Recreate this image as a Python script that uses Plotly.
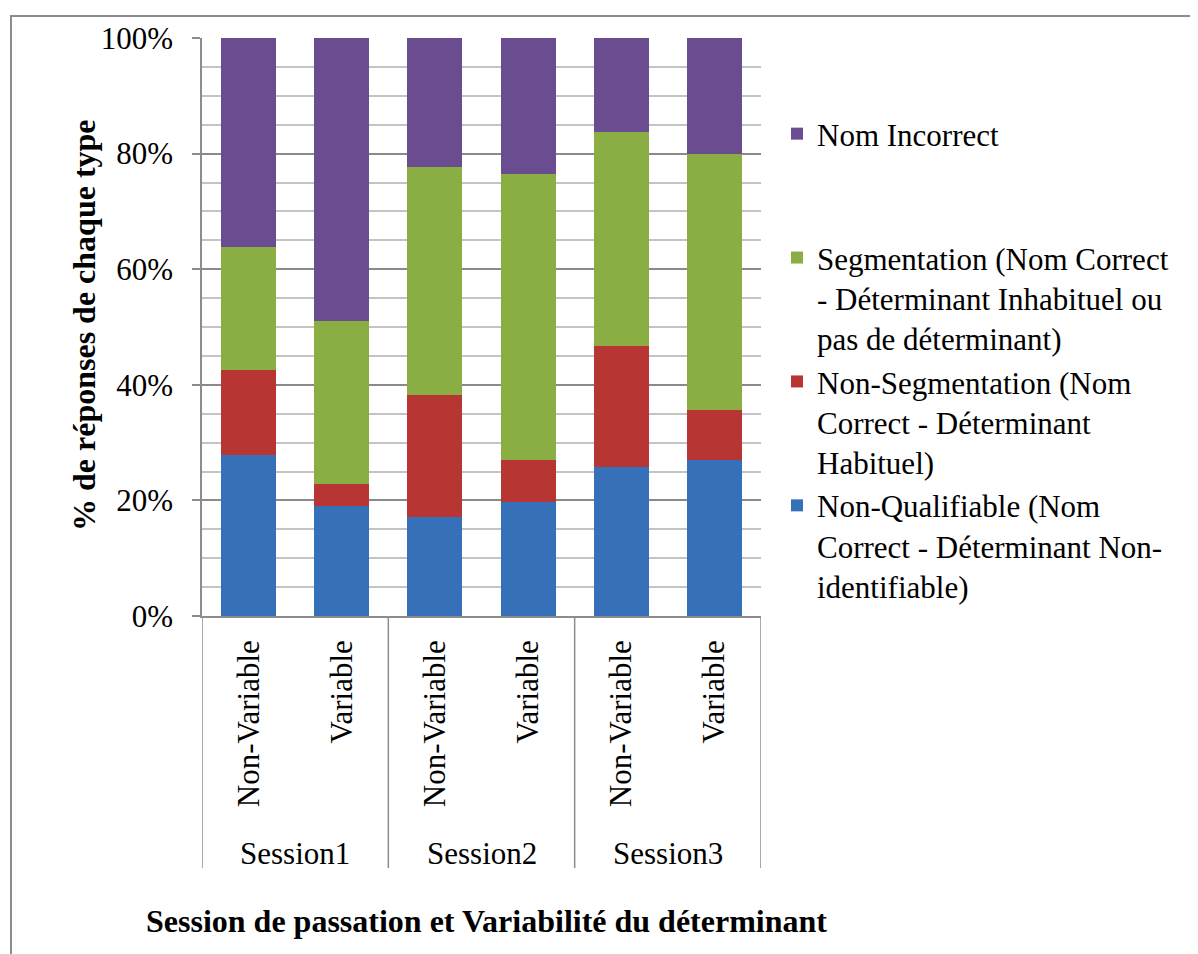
import plotly.graph_objects as go

categories = ["Non-Variable", "Variable", "Non-Variable", "Variable", "Non-Variable", "Variable"]
sessions = ["Session1", "Session2", "Session3"]

non_qualifiable = [27.8, 19.1, 17.1, 19.7, 25.7, 27.0]
non_segmentation = [14.7, 3.8, 21.1, 7.3, 21.1, 8.6]
segmentation = [21.3, 28.2, 39.4, 49.4, 37.0, 44.4]
nom_incorrect = [36.2, 48.9, 22.4, 23.6, 16.2, 20.0]

series_names = [
    "Non-Qualifiable (Nom<br>Correct - Déterminant Non-<br>identifiable)",
    "Non-Segmentation (Nom<br>Correct - Déterminant<br>Habituel)",
    "Segmentation (Nom Correct<br>- Déterminant Inhabituel ou<br>pas de déterminant)",
    "Nom Incorrect<br> <br> ",
]
series_values = [non_qualifiable, non_segmentation, segmentation, nom_incorrect]
series_colors = ["#3670B8", "#B73533", "#8AAE43", "#6A4C90"]

y_ticks = [0, 20, 40, 60, 80, 100]
y_ticktext = ["0%", "20%", "40%", "60%", "80%", "100%"]

FONT = "Liberation Serif"
FS = 31

x_idx = list(range(len(categories)))

fig = go.Figure()
for name, vals, col in zip(series_names, series_values, series_colors):
    fig.add_trace(go.Bar(
        x=x_idx, y=vals, name=name,
        marker=dict(color=col, line=dict(width=0)),
        width=0.59,
    ))

OFF = 8  # page body margin
W, H = 1198 - OFF, 954 - OFF
ml, mt = 202 - OFF, 38 - OFF
mr = W - (761 - OFF)
mb = H - (616 - OFF)
pw = W - ml - mr
ph = H - mt - mb

def py(px):
    return (H - mb - (px - OFF)) / ph

def pxx(px):
    return ((px - OFF) - ml) / pw

shapes = []
n_per = len(categories) // len(sessions)
for k in range(len(sessions) + 1):
    xs = k * n_per - 0.5
    shapes.append(dict(type="line", xref="x", yref="paper", x0=xs, x1=xs,
                       y0=0, y1=py(868), line=dict(color="#8C8C8C", width=1.5)))
shapes.append(dict(type="rect", xref="paper", yref="paper",
                   x0=pxx(11), x1=pxx(1220), y0=py(980), y1=py(16),
                   line=dict(color="#8C8C8C", width=2), fillcolor="rgba(0,0,0,0)", layer="below"))

annotations = []
for k, s in enumerate(sessions):
    annotations.append(dict(text=s, x=k * n_per + (n_per - 1) / 2, xref="x",
                            y=py(853), yref="paper", showarrow=False,
                            font=dict(family=FONT, size=FS, color="black"),
                            xanchor="center", yanchor="middle"))
annotations.append(dict(text="<b>Session de passation et Variabilité du déterminant</b>",
                        x=pxx(486), xref="paper", y=py(921), yref="paper",
                        showarrow=False, xanchor="center", yanchor="middle",
                        font=dict(family=FONT, size=32, color="black")))
annotations.append(dict(text="<b>% de réponses de chaque type</b>",
                        x=pxx(84), xref="paper", y=py(325), yref="paper",
                        showarrow=False, textangle=-90, xanchor="center", yanchor="middle",
                        font=dict(family=FONT, size=32, color="black")))

fig.update_layout(
    barmode="stack",
    width=W, height=H,
    margin=dict(l=ml, r=mr, t=mt, b=mb, autoexpand=False),
    paper_bgcolor="white", plot_bgcolor="white",
    font=dict(family=FONT, size=FS, color="black"),
    showlegend=True,
    legend=dict(traceorder="reversed", x=pxx(777), xanchor="left", y=py(107), yanchor="top",
                font=dict(family=FONT, size=FS, color="black"), valign="top",
                bgcolor="rgba(0,0,0,0)", itemclick=False, tracegroupgap=0),
    shapes=shapes,
    annotations=annotations,
    xaxis=dict(
        tickmode="array", tickvals=x_idx, ticktext=categories, tickangle=-90,
        range=[-0.5, len(categories) - 0.5],
        showgrid=False, showline=True, linecolor="#8C8C8C", linewidth=1.5,
        ticks="", tickfont=dict(family=FONT, size=FS, color="black"),
        ticklabelstandoff=10,
        zeroline=False,
    ),
    yaxis=dict(
        range=[0, 100], tickmode="array", tickvals=y_ticks, ticktext=y_ticktext,
        showgrid=True, gridcolor="#8A8A8A", gridwidth=1.5,
        minor=dict(dtick=5, showgrid=True, gridcolor="#C4C4C4", gridwidth=1.5, ticks=""),
        showline=True, linecolor="#8C8C8C", linewidth=1.5,
        ticks="outside", ticklen=8, tickcolor="#8C8C8C", tickwidth=1.5,
        tickfont=dict(family=FONT, size=FS, color="black"),
        ticklabelstandoff=13,
        zeroline=False,
    ),
)

fig.write_html("out.html")
